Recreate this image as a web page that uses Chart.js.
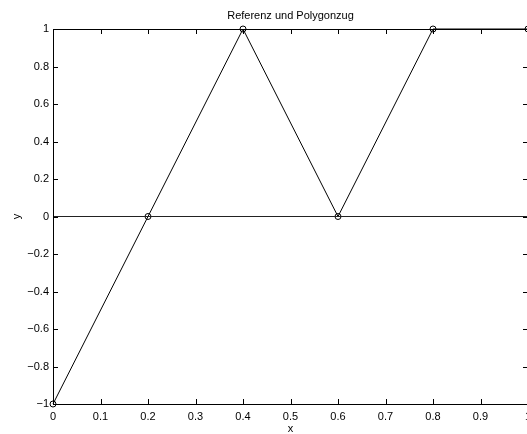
<!DOCTYPE html>
<html>
<head>
<meta charset="utf-8">
<script src="https://cdn.jsdelivr.net/npm/chart.js@4/dist/chart.umd.min.js"></script>
<style>
  html, body { margin: 0; padding: 0; overflow: hidden; background: #fff; }
  #wrap { position: relative; width: 540px; height: 434px; }
</style>
</head>
<body>
<div id="wrap"><canvas id="c" width="540" height="434" style="width:540px;height:434px"></canvas></div>
<script>
// ---- data ----
const titleText = 'Referenz und Polygonzug';
const xLabel = 'x';
const yLabel = 'y';
const polygonX = [0, 0.2, 0.4, 0.6, 0.8, 1.0];
const polygonY = [-1, 0, 1, 0, 1, 1];
const referenceX = [0, 1];
const referenceY = [0, 0];
const xTicks = [0, 0.1, 0.2, 0.3, 0.4, 0.5, 0.6, 0.7, 0.8, 0.9, 1];
const yTicks = [-1, -0.8, -0.6, -0.4, -0.2, 0, 0.2, 0.4, 0.6, 0.8, 1];

const FONT = 'Liberation Sans, Arial, Helvetica, sans-serif';

function fmt(v) {
  const r = Math.round(v * 10) / 10;
  const s = String(Math.abs(r));
  return (r < 0 ? '\u2212' : '') + s;
}

const frameTicks = {
  id: 'frameTicks',
  afterDatasetsDraw(chart) {
    const {ctx, chartArea: a, scales} = chart;
    ctx.save();
    ctx.strokeStyle = '#000';
    ctx.lineWidth = 1;
    ctx.beginPath();
    ctx.rect(Math.round(a.left) + 0.5, Math.round(a.top) + 0.5,
             Math.round(a.right - a.left), Math.round(a.bottom - a.top));
    ctx.stroke();
    const L = 5;
    ctx.beginPath();
    xTicks.forEach(v => {
      const px = Math.round(scales.x.getPixelForValue(v)) + 0.5;
      ctx.moveTo(px, a.bottom); ctx.lineTo(px, a.bottom - L);
      ctx.moveTo(px, a.top); ctx.lineTo(px, a.top + L);
    });
    yTicks.forEach(v => {
      const py = Math.round(scales.y.getPixelForValue(v)) + 0.5;
      ctx.moveTo(a.left, py); ctx.lineTo(a.left + L, py);
      ctx.moveTo(a.right, py); ctx.lineTo(a.right - L, py);
    });
    ctx.stroke();
    // title
    ctx.fillStyle = '#000';
    ctx.font = '11px ' + FONT;
    ctx.textAlign = 'center';
    ctx.textBaseline = 'middle';
    ctx.fillText(titleText, (a.left + a.right) / 2, 16);
    ctx.restore();
  }
};

new Chart(document.getElementById('c'), {
  type: 'scatter',
  data: {
    datasets: [
      {
        label: 'Referenz',
        data: referenceX.map((x, i) => ({x, y: referenceY[i]})),
        showLine: true,
        borderColor: '#222',
        borderWidth: 1.2,
        pointRadius: 0,
        fill: false
      },
      {
        label: 'Polygonzug',
        data: polygonX.map((x, i) => ({x, y: polygonY[i]})),
        showLine: true,
        borderColor: '#000',
        borderWidth: 1,
        pointRadius: 3,
        pointBorderColor: '#000',
        pointBackgroundColor: 'rgba(0,0,0,0)',
        pointBorderWidth: 1,
        fill: false,
        clip: false
      }
    ]
  },
  options: {
    responsive: false,
    animation: false,
    devicePixelRatio: 1,
    layout: { padding: { top: 29, right: 12, left: 0, bottom: 0 } },
    plugins: {
      legend: { display: false },
      title: { display: false },
      tooltip: { enabled: false }
    },
    scales: {
      x: {
        type: 'linear',
        min: 0, max: 1,
        afterBuildTicks: s => { s.ticks = xTicks.map(v => ({value: v})); },
        afterFit: s => { s.height = 30; },
        grid: { display: false, drawTicks: false },
        border: { display: false },
        ticks: {
          autoSkip: false, maxRotation: 0, padding: 6,
          color: '#000', font: { family: FONT, size: 11 },
          callback: v => fmt(v)
        },
        title: { display: true, text: xLabel, color: '#000',
                 font: { family: FONT, size: 11, lineHeight: 0.9 }, padding: { top: 0, bottom: 0 } }
      },
      y: {
        type: 'linear',
        min: -1, max: 1,
        afterBuildTicks: s => { s.ticks = yTicks.map(v => ({value: v})); },
        afterFit: s => { s.width = 53; },
        grid: { display: false, drawTicks: false },
        border: { display: false },
        ticks: {
          autoSkip: false, padding: 4,
          color: '#000', font: { family: FONT, size: 11 },
          callback: v => fmt(v)
        },
        title: { display: true, text: yLabel, color: '#000',
                 font: { family: FONT, size: 11 }, padding: { top: 10, bottom: 0 } }
      }
    }
  },
  plugins: [frameTicks]
});
</script>
</body>
</html>
